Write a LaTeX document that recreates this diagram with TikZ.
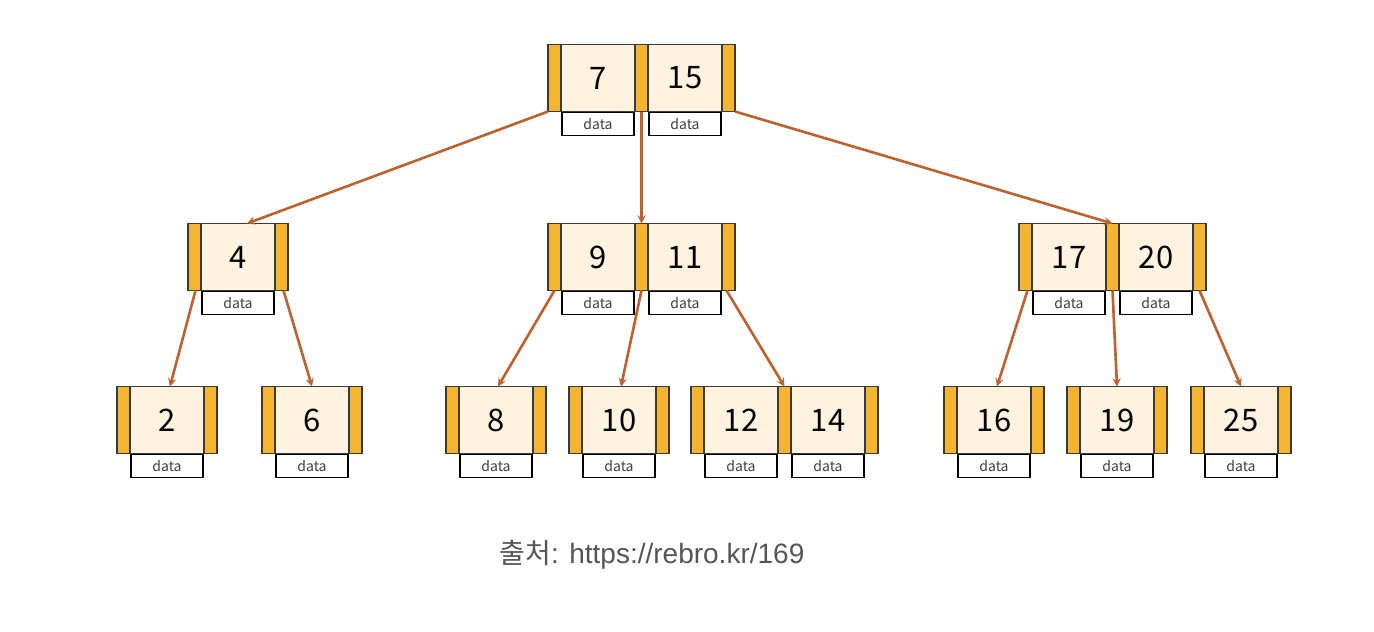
\documentclass[tikz,border=0pt]{standalone}
\usepackage{fontspec}
\setmainfont{Liberation Sans}
\newfontfamily\kr{Noto Sans CJK KR}
\usetikzlibrary{positioning, arrows}
\definecolor{barorange}{HTML}{F6B530}
\definecolor{keycream}{HTML}{FFF3E0}
\definecolor{edgeline}{HTML}{3A3A3A}
\definecolor{linkbrown}{HTML}{C0602A}
\definecolor{capgrey}{HTML}{555555}
\tikzstyle{ptr} = [rectangle, minimum width=13pt, minimum height=67pt, inner sep=0pt, outer sep=0pt, draw=edgeline, line width=1.6pt, fill=barorange]
\tikzstyle{key} = [rectangle, minimum width=74pt, minimum height=67pt, inner sep=0pt, outer sep=0pt, draw=edgeline, line width=1.6pt, fill=keycream, font=\kr\fontsize{31}{31}\selectfont]
\tikzstyle{data} = [rectangle, minimum width=72pt, minimum height=23pt, inner sep=0pt, outer sep=0pt, draw=black, line width=1.6pt, fill=white, font=\kr\fontsize{14}{14}\selectfont, text=black!75]
\tikzstyle{arrow} = [line width=2.6pt, ->, >=stealth, draw=linkbrown]

\begin{document}
\begin{tikzpicture}[x=1pt, y=-1pt]
\useasboundingbox (0,0) rectangle (1374,632);

% Root
\node (rp0) [ptr] at (554.5,78) {};
\node (r7) [key, right=0pt of rp0] {7};
\node (rp1) [ptr, right=0pt of r7] {};
\node (r15) [key, right=0pt of rp1] {15};
\node (rp2) [ptr, right=0pt of r15] {};
\node (r7d) [data, below=1pt of r7] {data};
\node (r15d) [data, below=1pt of r15] {data};

% Level 2
\node (ap0) [ptr] at (194.5,257) {};
\node (a4) [key, right=0pt of ap0] {4};
\node (ap1) [ptr, right=0pt of a4] {};
\node (a4d) [data, below=1pt of a4] {data};

\node (bp0) [ptr] at (554.5,257) {};
\node (b9) [key, right=0pt of bp0] {9};
\node (bp1) [ptr, right=0pt of b9] {};
\node (b11) [key, right=0pt of bp1] {11};
\node (bp2) [ptr, right=0pt of b11] {};
\node (b9d) [data, below=1pt of b9] {data};
\node (b11d) [data, below=1pt of b11] {data};

\node (cp0) [ptr] at (1025.5,257) {};
\node (c17) [key, right=0pt of cp0] {17};
\node (cp1) [ptr, right=0pt of c17] {};
\node (c20) [key, right=0pt of cp1] {20};
\node (cp2) [ptr, right=0pt of c20] {};
\node (c17d) [data, below=1pt of c17] {data};
\node (c20d) [data, below=1pt of c20] {data};

% Leaves
\node (lp2) [ptr] at (123.5,420) {};
\node (l2) [key, right=0pt of lp2] {2};
\node (lq2) [ptr, right=0pt of l2] {};
\node (l2d) [data, below=1pt of l2] {data};

\node (lp6) [ptr] at (268.5,420) {};
\node (l6) [key, right=0pt of lp6] {6};
\node (lq6) [ptr, right=0pt of l6] {};
\node (l6d) [data, below=1pt of l6] {data};

\node (lp8) [ptr] at (452.5,420) {};
\node (l8) [key, right=0pt of lp8] {8};
\node (lq8) [ptr, right=0pt of l8] {};
\node (l8d) [data, below=1pt of l8] {data};

\node (lp10) [ptr] at (575.5,420) {};
\node (l10) [key, right=0pt of lp10] {10};
\node (lq10) [ptr, right=0pt of l10] {};
\node (l10d) [data, below=1pt of l10] {data};

\node (lp12) [ptr] at (697.5,420) {};
\node (l12) [key, right=0pt of lp12] {12};
\node (lq12) [ptr, right=0pt of l12] {};
\node (l14) [key, right=0pt of lq12] {14};
\node (lr14) [ptr, right=0pt of l14] {};
\node (l12d) [data, below=1pt of l12] {data};
\node (l14d) [data, below=1pt of l14] {data};

\node (lp16) [ptr] at (950.5,420) {};
\node (l16) [key, right=0pt of lp16] {16};
\node (lq16) [ptr, right=0pt of l16] {};
\node (l16d) [data, below=1pt of l16] {data};

\node (lp19) [ptr] at (1073.5,420) {};
\node (l19) [key, right=0pt of lp19] {19};
\node (lq19) [ptr, right=0pt of l19] {};
\node (l19d) [data, below=1pt of l19] {data};

\node (lp25) [ptr] at (1197.5,420) {};
\node (l25) [key, right=0pt of lp25] {25};
\node (lq25) [ptr, right=0pt of l25] {};
\node (l25d) [data, below=1pt of l25] {data};

% Caption
\node (src) [text=capgrey, font=\fontsize{28}{28}\selectfont] at (652,555) {{\kr 출처}: https://rebro.kr/169};

% Arrows
\draw [arrow] (rp0.south west) -- ([xshift=9pt]a4.north);
\draw [arrow] (rp1.south) -- (bp1.north);
\draw [arrow] (rp2.south east) -- (cp1.north);
\draw [arrow] ([xshift=1pt]ap0.south) -- ([xshift=3pt]l2.north);
\draw [arrow] ([xshift=2pt]ap1.south) -- (l6.north);
\draw [arrow] (bp0.south) -- ([xshift=2pt]l8.north);
\draw [arrow] (bp1.south) -- ([xshift=2pt]l10.north);
\draw [arrow] ([xshift=-2pt]bp2.south) -- (lq12.north);
\draw [arrow] ([xshift=2pt]cp0.south) -- ([xshift=3pt]l16.north);
\draw [arrow] (cp1.south) -- (l19.north);
\draw [arrow] (cp2.south) -- (l25.north);

\end{tikzpicture}
\end{document}
